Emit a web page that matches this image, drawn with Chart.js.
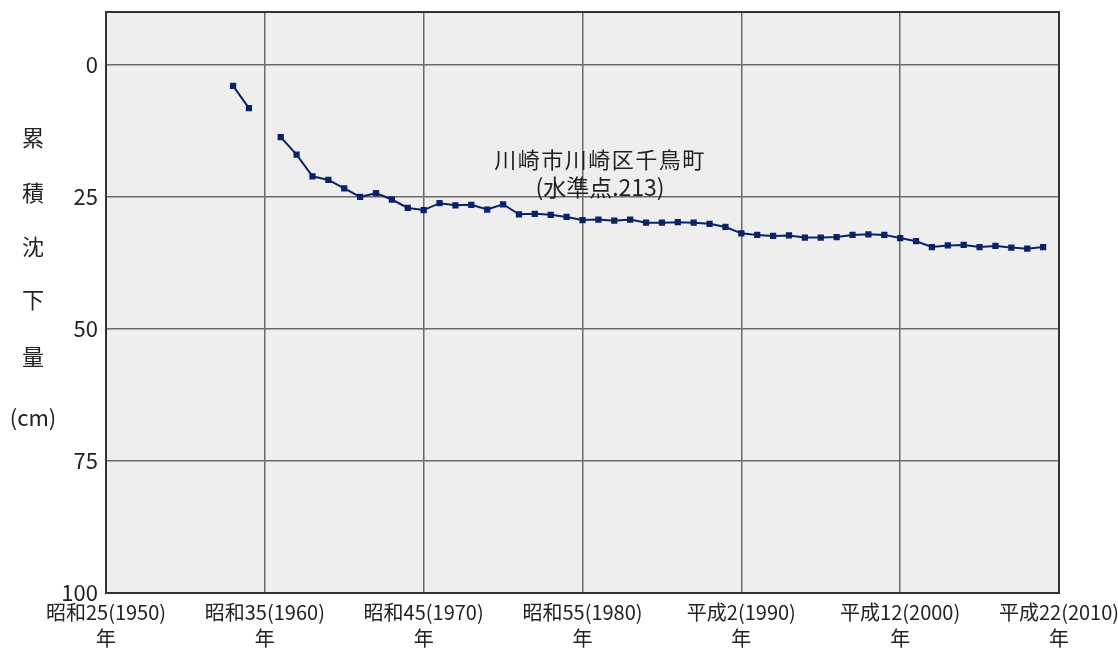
<!DOCTYPE html>
<html>
<head>
<meta charset="utf-8">
<script src="https://cdn.jsdelivr.net/npm/chart.js@4"></script>
<style>
  body { margin: 0; background: #fff; }
  #wrap { width: 1118px; height: 650px; position: relative; }
</style>
</head>
<body>
<div id="wrap"><canvas id="myChart"></canvas></div>
<script>
// cumulative subsidence (cm) at benchmark 213, Chidori-cho
const years = [1958, 1959, 1960, 1961, 1962, 1963, 1964, 1965, 1966, 1967, 1968, 1969,
  1970, 1971, 1972, 1973, 1974, 1975, 1976, 1977, 1978, 1979,
  1980, 1981, 1982, 1983, 1984, 1985, 1986, 1987, 1988, 1989,
  1990, 1991, 1992, 1993, 1994, 1995, 1996, 1997, 1998, 1999,
  2000, 2001, 2002, 2003, 2004, 2005, 2006, 2007, 2008, 2009];
const subsidence = [4.0, 8.2, null, 13.7, 17.0, 21.1, 21.8, 23.4, 25.0, 24.3, 25.5, 27.1,
  27.5, 26.2, 26.6, 26.5, 27.4, 26.4, 28.3, 28.2, 28.4, 28.8,
  29.4, 29.3, 29.5, 29.3, 29.9, 29.9, 29.8, 29.9, 30.1, 30.7,
  31.9, 32.2, 32.4, 32.3, 32.7, 32.7, 32.6, 32.2, 32.1, 32.2,
  32.8, 33.4, 34.5, 34.2, 34.1, 34.5, 34.3, 34.6, 34.8, 34.5];

const xTicks = [1950, 1960, 1970, 1980, 1990, 2000, 2010];
const xTickLabels = ['昭和25(1950)', '昭和35(1960)', '昭和45(1970)', '昭和55(1980)',
  '平成2(1990)', '平成12(2000)', '平成22(2010)'];
const yTicks = [0, 25, 50, 75, 100];
const yTitle = ['累', '積', '沈', '下', '量', '(cm)'];
const noteLines = ['川崎市川崎区千鳥町', '(水準点.213)'];

const FONT = '"Noto Sans CJK JP", "Noto Sans", sans-serif';

const extras = {
  id: 'extras',
  beforeDraw(chart) {
    const { ctx, chartArea: a } = chart;
    ctx.save();
    ctx.fillStyle = '#eeeeee';
    ctx.fillRect(a.left, a.top, a.right - a.left, a.bottom - a.top);
    ctx.restore();
  },
  afterDraw(chart) {
    const { ctx, chartArea: a } = chart;
    ctx.save();
    // frame
    ctx.strokeStyle = '#333';
    ctx.lineWidth = 2;
    ctx.strokeRect(a.left, a.top, a.right - a.left, a.bottom - a.top);
    // y title, stacked
    ctx.fillStyle = '#222';
    ctx.font = '22px ' + FONT;
    ctx.textAlign = 'center';
    ctx.textBaseline = 'middle';
    const ys = [138, 193, 247, 300, 357, 418];
    yTitle.forEach((t, i) => ctx.fillText(t, 33, ys[i]));
    // annotation
    ctx.font = '22px ' + FONT;
    ctx.letterSpacing = '1.5px';
    ctx.fillText(noteLines[0], 600, 160);
    ctx.letterSpacing = '0px';
    ctx.font = '23px ' + FONT;
    ctx.fillText(noteLines[1], 600, 187);
    ctx.restore();
  }
};

new Chart(document.getElementById('myChart'), {
  type: 'line',
  data: {
    datasets: [{
      data: years.map((y, i) => ({ x: y, y: subsidence[i] })),
      borderColor: '#0d2169',
      backgroundColor: '#0d2169',
      borderWidth: 2,
      pointStyle: 'rect',
      pointRadius: 3,
      spanGaps: false,
      tension: 0
    }]
  },
  options: {
    responsive: true,
    maintainAspectRatio: false,
    animation: false,
    layout: { padding: { top: 12, right: 59, left: 0, bottom: 0 } },
    plugins: { legend: { display: false }, tooltip: { enabled: false } },
    scales: {
      x: {
        type: 'linear',
        min: 1950,
        max: 2010,
        afterBuildTicks: s => { s.ticks = xTicks.map(v => ({ value: v })); },
        afterFit: s => { s.height = 57; s.paddingLeft = 0; s.paddingRight = 0; },
        grid: { color: '#6a6a6a', lineWidth: 1.5, drawTicks: false },
        border: { display: false },
        ticks: {
          padding: 6,
          maxRotation: 0,
          autoSkip: false,
          color: '#222',
          font: { family: FONT, size: 20, lineHeight: 1.3 },
          callback: v => [xTickLabels[xTicks.indexOf(v)], '年']
        }
      },
      y: {
        reverse: true,
        min: -10,
        max: 100,
        afterBuildTicks: s => { s.ticks = yTicks.map(v => ({ value: v })); },
        afterFit: s => { s.width = 106; s.paddingTop = 0; s.paddingBottom = 0; },
        grid: { color: '#6a6a6a', lineWidth: 1.5, drawTicks: false },
        border: { display: false },
        ticks: {
          padding: 8,
          color: '#222',
          font: { family: FONT, size: 22 }
        }
      }
    }
  },
  plugins: [extras]
});
</script>
</body>
</html>
